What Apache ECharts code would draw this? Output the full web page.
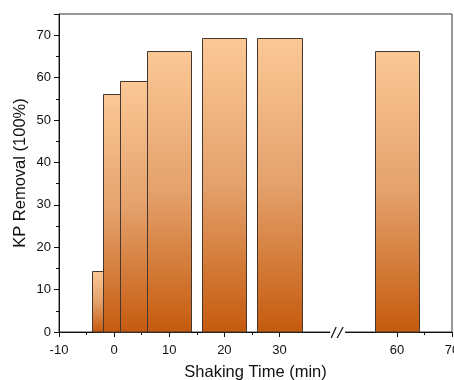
<!DOCTYPE html>
<html><head><meta charset="utf-8">
<script src="https://cdn.jsdelivr.net/npm/echarts@6/dist/echarts.min.js"></script>
<style>html,body{margin:0;padding:0;background:#fff}#c{width:454px;height:380px}</style>
</head><body><div id="c"></div>
<script>
// ---- data ----
const times = [0, 2, 5, 10, 20, 30, 60];            // shaking time (min)
const removal = [14.3, 56.1, 59.3, 66.2, 69.4, 69.4, 66.3]; // KP removal (%)
const xRange = [-10, 70];
const yRange = [0, 75];
const yTicks = [0, 10, 20, 30, 40, 50, 60, 70];
const breakRange = [40.5, 49.5];
const breakGap = 0.3;
const barSpan = 8;   // bar width in x-axis units

const chart = echarts.init(document.getElementById('c'), null, {renderer: 'canvas'});
const font = 'Liberation Sans, Arial, sans-serif';

function renderBar(params, api) {
  const x = api.value(0), v = api.value(1);
  const p1 = api.coord([x - barSpan / 2, v]);
  const p2 = api.coord([x + barSpan / 2, 0]);
  const x0 = Math.round(p1[0]) + 0.5, x1 = Math.round(p2[0]) + 0.5;
  const y0 = Math.round(p1[1]) + 0.5, y1 = Math.round(p2[1]);
  return {
    type: 'rect',
    shape: {x: x0, y: y0, width: x1 - x0, height: y1 - y0},
    style: {
      fill: new echarts.graphic.LinearGradient(0, 0, 0, 1, [
        {offset: 0, color: '#FBC896'},
        {offset: 0.5, color: '#E4A16B'},
        {offset: 1, color: '#C55A0E'}
      ]),
      stroke: '#45362e',
      lineWidth: 1
    }
  };
}

function renderBreak(params, api) {
  const p = api.coord([api.value(0), api.value(1)]);
  const cx = p[0], cy = p[1];
  return {
    type: 'group',
    children: [
      {type: 'rect', shape: {x: cx - 8, y: cy - 2, width: 15, height: 9}, style: {fill: '#fff'}},
      {type: 'line', shape: {x1: cx - 7, y1: cy + 6, x2: cx - 2, y2: cy - 5}, style: {stroke: '#111', lineWidth: 1.2}},
      {type: 'line', shape: {x1: cx - 1, y1: cy + 6, x2: cx + 5, y2: cy - 5}, style: {stroke: '#111', lineWidth: 1.2}}
    ]
  };
}

chart.setOption({
  animation: false,
  backgroundColor: '#fff',
  grid: {left: 59, right: 2, top: 14, bottom: 48, outerBoundsMode: 'none', containLabel: false,
    show: true, borderColor: '#333', borderWidth: 1, backgroundColor: 'transparent'},
  xAxis: {
    type: 'value', min: xRange[0], max: xRange[1], interval: 10,
    breaks: [{start: breakRange[0], end: breakRange[1], gap: breakGap}],
    breakArea: {show: false},
    name: 'Shaking Time (min)', nameLocation: 'middle', nameGap: 32,
    nameTextStyle: {fontFamily: font, fontSize: 16.5, color: '#111'},
    axisLine: {show: true, onZero: false, lineStyle: {color: '#111', width: 1}},
    axisTick: {show: true, inside: false, length: 5, lineStyle: {color: '#111'}},
    minorTick: {show: true, splitNumber: 2, length: 3, lineStyle: {color: '#111'}},
    splitLine: {show: false},
    axisLabel: {fontFamily: font, fontSize: 13, color: '#111', margin: 12,
      formatter: v => (v % 10 === 0 ? String(v) : '')}
  },
  yAxis: {
    type: 'value', min: yRange[0], max: yRange[1], interval: 10,
    name: 'KP Removal (100%)', nameLocation: 'middle', nameGap: 30, nameMoveOverlap: false,
    nameTextStyle: {fontFamily: font, fontSize: 16.5, color: '#111'},
    axisLine: {show: true, onZero: false, lineStyle: {color: '#111', width: 1}},
    axisTick: {show: true, inside: false, length: 5, lineStyle: {color: '#111'}},
    minorTick: {show: true, splitNumber: 2, length: 3, lineStyle: {color: '#111'}},
    splitLine: {show: false},
    axisLabel: {fontFamily: font, fontSize: 13, color: '#111', margin: 8, showMaxLabel: false,
      formatter: v => (yTicks.indexOf(v) >= 0 ? String(v) : '')}
  },
  series: [
    {type: 'custom', renderItem: renderBar, data: times.map((t, i) => [t, removal[i]]), clip: false, z: 3},
    {type: 'custom', renderItem: renderBreak, data: [[(breakRange[0] + breakRange[1]) / 2, yRange[0]]], clip: false, z: 10, silent: true}
  ]
});
</script>
</body></html>
